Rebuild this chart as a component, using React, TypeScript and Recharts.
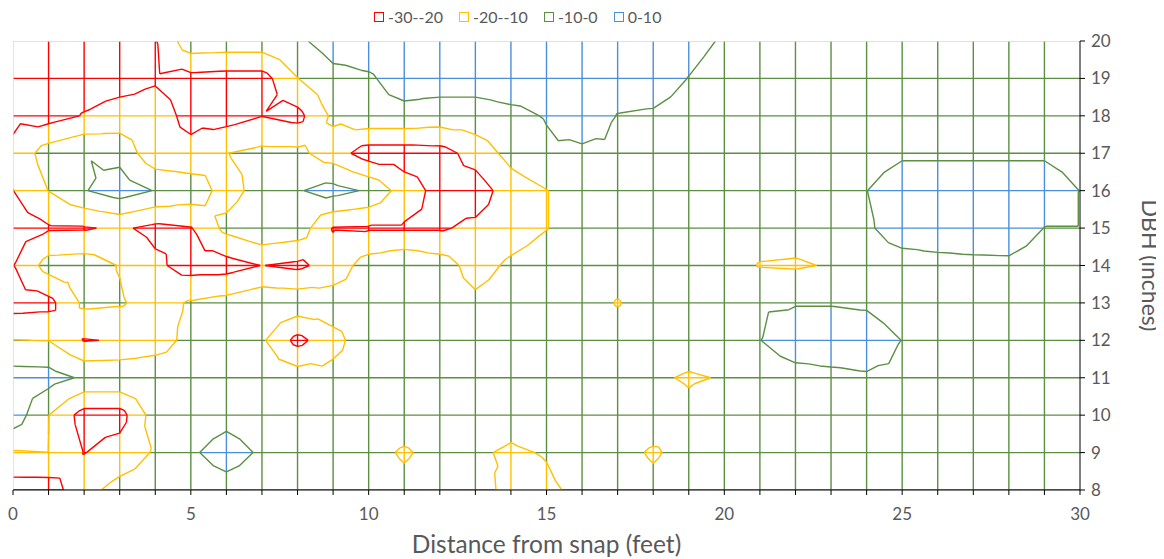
import { ComposedChart, Line, XAxis, YAxis, Legend, Label } from 'recharts';

// grid coordinates
const distanceFt = [0, 1, 2, 3, 4, 5, 6, 7, 8, 9, 10, 11, 12, 13, 14, 15, 16, 17, 18, 19, 20, 21, 22, 23, 24, 25, 26, 27, 28, 29, 30];
const dbhIn = [8, 9, 10, 11, 12, 13, 14, 15, 16, 17, 18, 19, 20];

// surface values, one row per DBH (x = 0..30)
const dbh8 = [-25, -25, -13, -6.75, -5, -4, -2.8, -4, -5, -5, -5, -7.5, -5, -4.5, -14, -11.5, -8, -5, -7.5, -5, -5, -4, -5, -5, -6, -5, -5, -5, -4, -5, -5];
const dbh9 = [-10.5, -10.1, -20.3, -15.7, -9, -1, 3, -1, -5, -5, -7, -11, -7, -9, -11, -9.5, -5, -7, -11, -7, -5, -5, -5, -6, -5, -5, -4, -5, -5, -5, -5];
const dbh10 = [6, -9.9, -24, -24, -5, -4, -2.3, -4, -5, -5, -5, -5, -5, -5, -7.3, -5, -5, -5, -5, -7.9, -5, -5, -4, -5, -5, -5, -5, -6, -5, -5, -5];
const dbh11 = [4.4, 4, -1.5, -1.5, -2.5, -4, -5, -5, -4.4, -7, -5, -5, -5, -5, -5, -5, -5, -5, -8.8, -10.8, -9.5, -3, -2, -1.2, -0.6, -1, -5, -5, -5, -5, -5];
const dbh12 = [-9.8, -10.2, -20.5, -19.3, -15, -6.7, -5, -8.5, -23, -13, -4.4, -5, -5, -5, -5, -5, -5, -5, -5, -5.8, -5, -0.1, 3, 3, 3, -0.1, -5, -5, -5, -5, -5];
const dbh13 = [-24, -23, -8, -9, -14, -9, -6.5, -2.6, -3, -4.7, -5, -5, -5, -7.8, -5, -5, -5, -10.6, -5, -5, -5, -0.5, -0.3, -0.3, -0.75, -3, -5, -5, -4, -5, -5];
const dbh14 = [-20.3, -6, -5, -10.5, -18, -24, -24, -19.8, -22, -16, -5.3, -1.7, -5.3, -14, -8.2, -5, -5, -5, -4, -5, -5.5, -10.5, -11, -9.3, -4, -3.4, -2.15, -1.6, -1.4, -3, -4];
const dbh15 = [-25, -21, -20.8, -18.5, -22.5, -20.5, -7.3, -2, -4, -20.5, -21, -21, -21, -18, -15, -10.3, -5, -5, -5, -5, -5, -5.5, -6, -5, -1.2, 4, 4, 4, 4, -0.1, -0.1];
const dbh16 = [-20.1, -9.8, -0.6, 5, -0.5, -4, -14, -6, -0.75, 3.5, -1.3, -15, -23.3, -25, -15, -10.3, -5, -5, -6, -5, -5, -5, -5, -5, -0.1, 4, 4, 4, 4, 4, -0.1];
const dbh17 = [-18, -5, -0.2, -3, -17, -17.3, -10.2, -7.5, -7.5, -15, -25, -25, -24, -16, -6.7, -1.5, -2, -1.5, -5, -5, -6, -5, -5, -5, -3, -1, -1, -1, -1, -1, -3];
const dbh18 = [-22, -24, -19.4, -16, -16, -22.7, -24, -20.2, -23, -8, -2.3, -2.3, -4, -4, -2, 0.5, 6, -0.3, -1, -3, -5, -5, -6, -5, -5, -5, -5, -4, -5, -5, -5];
const dbh19 = [-25, -25, -25, -24, -21, -23, -24, -24, -10.2, -3, -1, 3.5, 4, 4, 4.7, 4, 4, 4, 4, -0.2, -4, -5, -5, -6, -5, -5, -4, -5, -5, -6, -5];
const dbh20 = [-25, -25, -25, -25, -20.5, -3.5, -4, -4, -1.9, 4.5, 4.6, 5, 5, 5, 5, 5, 5, 5, 5, 3, -1, -5, -5, -5, -5, -5, -5, -5, -5, -5, -5];

const bandNames = ['-30--20', '-20--10', '-10-0', '0-10'];
const bandColors = ['#FF0000', '#FFC000', '#5B8F42', '#4A8FDB'];
const levels = [-20, -10, 0];

const rows = [dbh8, dbh9, dbh10, dbh11, dbh12, dbh13, dbh14, dbh15, dbh16, dbh17, dbh18, dbh19, dbh20];

type Pt = { x: number; y: number | null };
type V3 = [number, number, number];

const bandOf = (v: number) => (v < -20 ? 0 : v < -10 ? 1 : v < 0 ? 2 : 3);

function pushSeg(out: Pt[], x0: number, y0: number, x1: number, y1: number) {
  out.push({ x: x0, y: y0 }, { x: x1, y: y1 }, { x: x1, y: null });
}

// a wireframe edge, split where it crosses a level and coloured by band
function meshEdge(out: Pt[][], a: V3, b: V3) {
  const ts = [0, 1];
  levels.forEach((L) => {
    if ((a[2] - L) * (b[2] - L) < 0) ts.push((L - a[2]) / (b[2] - a[2]));
  });
  ts.sort((p, q) => p - q);
  for (let k = 0; k < ts.length - 1; k++) {
    const tm = (ts[k] + ts[k + 1]) / 2;
    const band = bandOf(a[2] + tm * (b[2] - a[2]));
    pushSeg(
      out[band],
      a[0] + ts[k] * (b[0] - a[0]), a[1] + ts[k] * (b[1] - a[1]),
      a[0] + ts[k + 1] * (b[0] - a[0]), a[1] + ts[k + 1] * (b[1] - a[1]),
    );
  }
}

function triContour(out: Pt[][], p: V3[]) {
  levels.forEach((L, li) => {
    const hits: [number, number][] = [];
    for (let k = 0; k < 3; k++) {
      const a = p[k];
      const b = p[(k + 1) % 3];
      if ((a[2] > L) !== (b[2] > L)) {
        const t = (L - a[2]) / (b[2] - a[2]);
        hits.push([a[0] + t * (b[0] - a[0]), a[1] + t * (b[1] - a[1])]);
      }
    }
    if (hits.length === 2) pushSeg(out[li], hits[0][0], hits[0][1], hits[1][0], hits[1][1]);
  });
}

function buildLayers() {
  const mesh: Pt[][] = [[], [], [], []];
  const contour: Pt[][] = [[], [], []];
  const nx = distanceFt.length;
  const ny = dbhIn.length;
  const node = (i: number, j: number): V3 => [distanceFt[i], dbhIn[j], rows[j][i]];

  for (let j = 0; j < ny - 1; j++) {
    for (let i = 0; i < nx - 1; i++) meshEdge(mesh, node(i, j), node(i + 1, j));
  }
  for (let i = 1; i < nx - 1; i++) {
    for (let j = 0; j < ny - 1; j++) meshEdge(mesh, node(i, j), node(i, j + 1));
  }
  for (let j = 0; j < ny - 1; j++) {
    for (let i = 0; i < nx - 1; i++) {
      const a = node(i, j);
      const b = node(i + 1, j);
      const c = node(i + 1, j + 1);
      const d = node(i, j + 1);
      const m: V3 = [(a[0] + b[0]) / 2, (a[1] + d[1]) / 2, (a[2] + b[2] + c[2] + d[2]) / 4];
      triContour(contour, [a, b, m]);
      triContour(contour, [b, c, m]);
      triContour(contour, [c, d, m]);
      triContour(contour, [d, a, m]);
    }
  }
  return { mesh, contour };
}

const { mesh, contour } = buildLayers();

const frame: Pt[] = [
  { x: distanceFt[0], y: dbhIn[0] },
  { x: distanceFt[0], y: dbhIn[dbhIn.length - 1] },
  { x: distanceFt[distanceFt.length - 1], y: dbhIn[dbhIn.length - 1] },
];

const FONT = 'Lato, "Liberation Sans", Arial, sans-serif';
const TEXT = '#595959';

const renderLegend = () => (
  <div style={{ display: 'flex', paddingLeft: 366, height: 33, alignItems: 'flex-start', fontSize: 16, lineHeight: '18px', color: TEXT, fontFamily: FONT }}>
    {bandNames.map((n, i) => (
      <span key={n} style={{ display: 'inline-flex', alignItems: 'center', marginRight: 16 }}>
        <span style={{ display: 'inline-block', width: 8, height: 8, border: `1.6px solid ${bandColors[i]}`, marginRight: 4 }} />
        {n}
      </span>
    ))}
  </div>
);

export default function App() {
  return (
    <div style={{ width: 1156, height: 551, fontFamily: FONT }}>
      <ComposedChart width={1156} height={551} margin={{ top: 0, right: 4, bottom: 6, left: 5 }}>
        <XAxis
          type="number"
          dataKey="x"
          domain={[0, 30]}
          ticks={distanceFt}
          interval={0}
          allowDataOverflow
          tickFormatter={(v: number) => (v % 5 === 0 ? String(v) : '')}
          tickSize={5}
          tickMargin={13}
          height={63}
          stroke="#000"
          tick={{ fill: TEXT, fontSize: 17 }}
        >
          <Label value="Distance from snap (feet)" position="insideBottom" offset={0} style={{ fill: TEXT, fontSize: 24.5 }} />
        </XAxis>
        <YAxis
          type="number"
          dataKey="y"
          orientation="right"
          domain={[8, 20]}
          ticks={dbhIn}
          interval={0}
          allowDataOverflow
          tickSize={5}
          tickMargin={6}
          width={80}
          stroke="#000"
          tick={{ fill: TEXT, fontSize: 17 }}
        >
          <Label value="DBH (inches)" angle={90} position="center" dx={30} style={{ fill: TEXT, fontSize: 23, textAnchor: 'middle' }} />
        </YAxis>
        <Legend verticalAlign="top" content={renderLegend} wrapperStyle={{ top: 0, left: 0, width: 1156 }} />
        {mesh.map((pts, i) => (
          <Line key={`mesh-${i}`} data={pts} dataKey="y" type="linear" stroke={bandColors[i]} strokeWidth={1.4} dot={false} activeDot={false} connectNulls={false} isAnimationActive={false} legendType="none" />
        ))}
        {contour.map((pts, i) => (
          <Line key={`cont-${i}`} data={pts} dataKey="y" type="linear" stroke={bandColors[i]} strokeWidth={1.4} dot={false} activeDot={false} connectNulls={false} isAnimationActive={false} legendType="none" />
        ))}
        <Line data={frame} dataKey="y" type="linear" stroke="#D9D9D9" strokeWidth={1.4} dot={false} activeDot={false} isAnimationActive={false} legendType="none" />
      </ComposedChart>
    </div>
  );
}
